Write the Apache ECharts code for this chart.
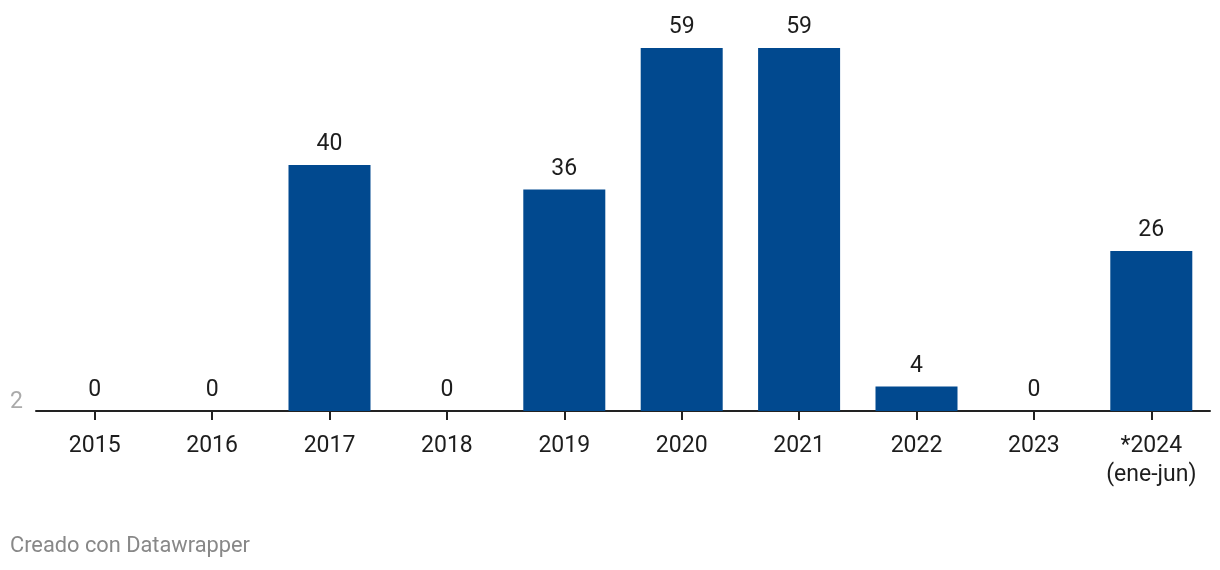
<!DOCTYPE html>
<html>
<head>
<meta charset="utf-8">
<script src="https://cdn.jsdelivr.net/npm/echarts@6/dist/echarts.min.js"></script>
<style>
html,body{margin:0;padding:0;background:#fff;}
#c{width:1220px;height:570px;}
</style>
</head>
<body>
<div id="c"></div>
<script>
const categories = ['2015','2016','2017','2018','2019','2020','2021','2022','2023','*2024\n(ene-jun)'];
const values = [0,0,40,0,36,59,59,4,0,26];
const yAxisLabel = '2';
const footer = 'Creado con Datawrapper';

const chart = echarts.init(document.getElementById('c'));
chart.setOption({
  animation:false,
  textStyle:{fontFamily:'Roboto'},
  grid:{left:36,right:10,top:48,bottom:159},
  xAxis:{
    type:'category',
    data:categories,
    axisLine:{lineStyle:{color:'#222',width:2}},
    axisTick:{show:true,alignWithLabel:true,length:9,lineStyle:{color:'#222',width:2}},
    axisLabel:{color:'#1d1d1d',fontSize:23,fontFamily:'Roboto',margin:21,lineHeight:29}
  },
  yAxis:{
    type:'value',min:0,max:59,
    splitLine:{show:false},axisLabel:{show:false},axisLine:{show:false},axisTick:{show:false}
  },
  series:[{
    type:'bar',
    data:values,
    barWidth:82,
    itemStyle:{color:'#01498f'},
    label:{show:true,position:'top',distance:9,color:'#1d1d1d',fontSize:23,fontFamily:'Roboto'}
  }],
  graphic:[
    {type:'text',left:10,top:391,style:{text:yAxisLabel,fill:'#aaa',font:'23px Roboto'}},
    {type:'text',left:10,top:536,style:{text:footer,fill:'#888',font:'21.8px Roboto'}}
  ]
});
</script>
</body>
</html>
